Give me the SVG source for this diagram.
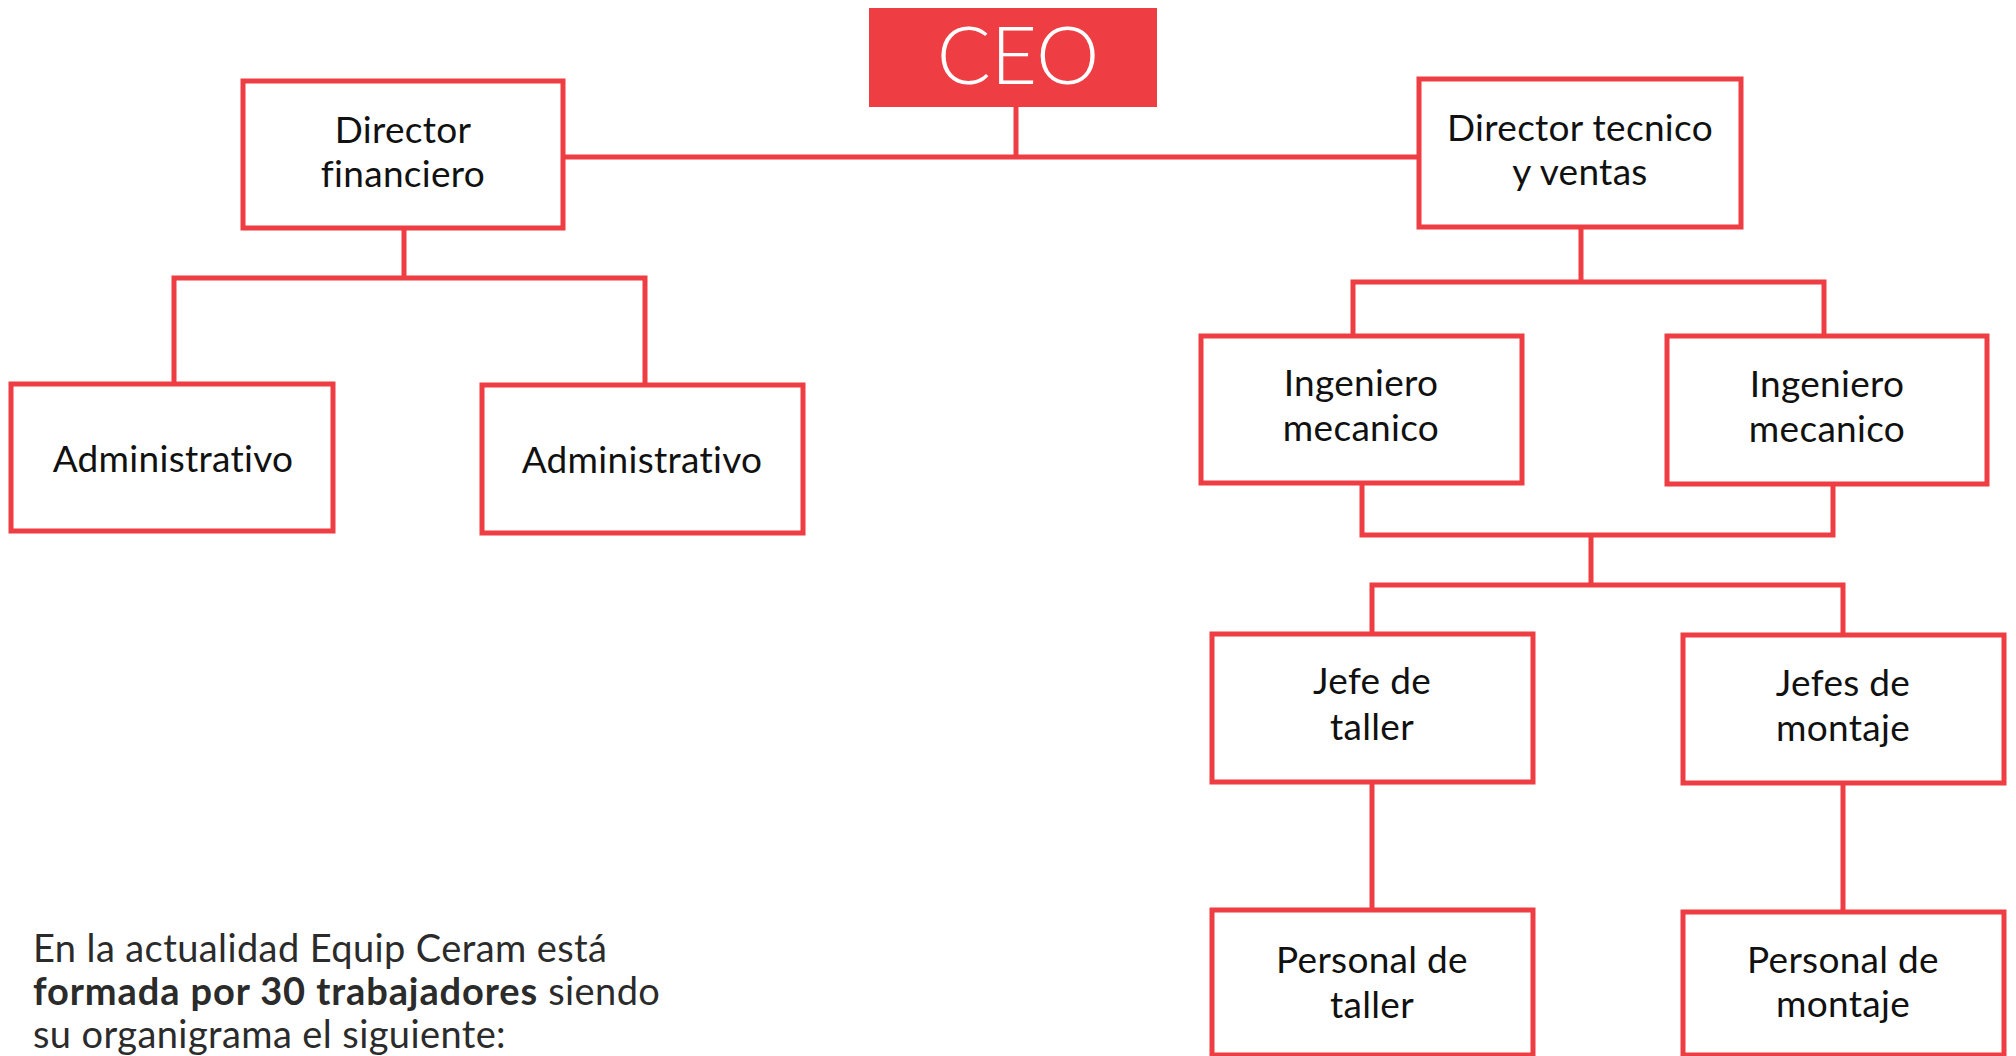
<svg xmlns="http://www.w3.org/2000/svg" width="2016" height="1056" viewBox="0 0 2016 1056">
<style>
.box{fill:#fff;stroke:#ee3d43;stroke-width:5}
.lbl{font-family:Lato,"Liberation Sans",sans-serif;font-size:37px;fill:#111;text-anchor:middle;font-variant-ligatures:none;letter-spacing:0.3px}
.con{fill:none;stroke:#ee3d43;stroke-width:5;stroke-linejoin:miter}
.note{font-family:Lato,"Liberation Sans",sans-serif;font-size:38px;fill:#2b2b2b;font-variant-ligatures:none;letter-spacing:0.4px}
.bold{font-weight:bold;letter-spacing:0.9px}
</style>
<rect width="2016" height="1056" fill="#fff"/>
<g id="connectors">
<path class="con" d="M1016,107 V157"/>
<path class="con" d="M563,157 H1419"/>
<path class="con" d="M404,228 V278"/>
<path class="con" d="M174,384 V278 H645 V385"/>
<path class="con" d="M1581,227 V282"/>
<path class="con" d="M1353,336 V282 H1824 V336"/>
<path class="con" d="M1362,483 V535 H1833 V484"/>
<path class="con" d="M1591,535 V585"/>
<path class="con" d="M1372,634 V585 H1843 V635"/>
<path class="con" d="M1372,782 V910"/>
<path class="con" d="M1843,783 V912"/>
</g>
<g id="ceo">
<rect x="869" y="8" width="288" height="99" fill="#ee3d43"/>
<text x="1018" y="84" text-anchor="middle" font-family="Lato,'Liberation Sans',sans-serif" font-size="80" fill="#fff" font-weight="300">CEO</text>
</g>
<g id="dir-fin">
<rect class="box" x="243" y="81" width="320" height="147"/>
<text class="lbl" x="403" y="143">Director</text>
<text class="lbl" x="403" y="187">financiero</text>
</g>
<g id="dir-tec">
<rect class="box" x="1419" y="79" width="322" height="148"/>
<text class="lbl" x="1580" y="141">Director tecnico</text>
<text class="lbl" x="1580" y="185">y ventas</text>
</g>
<g id="adm1">
<rect class="box" x="11" y="384" width="322" height="147"/>
<text class="lbl" x="173" y="472">Administrativo</text>
</g>
<g id="adm2">
<rect class="box" x="482" y="385" width="321" height="148"/>
<text class="lbl" x="642" y="473">Administrativo</text>
</g>
<g id="ing1">
<rect class="box" x="1201" y="336" width="321" height="147"/>
<text class="lbl" x="1361" y="396">Ingeniero</text>
<text class="lbl" x="1361" y="441">mecanico</text>
</g>
<g id="ing2">
<rect class="box" x="1667" y="336" width="320" height="148"/>
<text class="lbl" x="1827" y="397">Ingeniero</text>
<text class="lbl" x="1827" y="442">mecanico</text>
</g>
<g id="jefe-taller">
<rect class="box" x="1212" y="634" width="321" height="148"/>
<text class="lbl" x="1372" y="694">Jefe de</text>
<text class="lbl" x="1372" y="740">taller</text>
</g>
<g id="jefes-montaje">
<rect class="box" x="1683" y="635" width="321" height="148"/>
<text class="lbl" x="1843" y="696">Jefes de</text>
<text class="lbl" x="1843" y="741">montaje</text>
</g>
<g id="personal-taller">
<rect class="box" x="1212" y="910" width="321" height="145"/>
<text class="lbl" x="1372" y="973">Personal de</text>
<text class="lbl" x="1372" y="1018">taller</text>
</g>
<g id="personal-montaje">
<rect class="box" x="1683" y="912" width="321" height="143"/>
<text class="lbl" x="1843" y="973">Personal de</text>
<text class="lbl" x="1843" y="1017">montaje</text>
</g>
<g id="note">
<text class="note" x="33" y="962">En la actualidad Equip Ceram está</text>
<text class="note" x="33" y="1005"><tspan class="bold">formada por 30 trabajadores</tspan> siendo</text>
<text class="note" x="33" y="1048">su organigrama el siguiente:</text>
</g>
</svg>
